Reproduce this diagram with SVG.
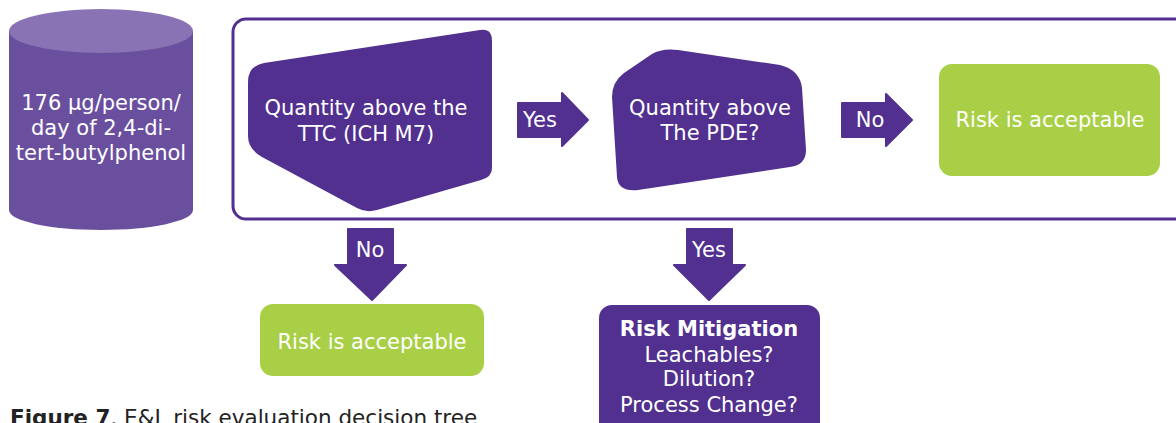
<svg xmlns="http://www.w3.org/2000/svg" width="1176" height="423" viewBox="0 0 1176 423">
<style>
text{font-family:"DejaVu Sans","Verdana",sans-serif;font-size:21px;fill:#ffffff;text-anchor:middle}
.p{fill:#51308f}
.g{fill:#a8cf45}
.arr{fill:#51308f;stroke:#51308f;stroke-width:2;stroke-linejoin:round}
.cap{fill:#222222;text-anchor:start;font-size:21.5px}
</style>
<rect width="1176" height="423" fill="#ffffff"/>
<g id="source">
<path d="M9 31 L9 210 A92 20 0 0 0 193 210 L193 31 Z" fill="#6a4f9f"/>
<ellipse cx="101" cy="31" rx="92" ry="22" fill="#8a73b4"/>
<text x="101" y="110">176 µg/person/</text>
<text x="101" y="135">day of 2,4-di-</text>
<text x="101" y="160">tert-butylphenol</text>
</g>
<g id="frame">
<rect x="233" y="19" width="960" height="200" rx="13" fill="none" stroke="#51308f" stroke-width="3"/>
</g>
<g id="ttc">
<path class="p" d="M264 63 L480 30 Q492 28 492 41 L492 168 Q492 177 481 180 L377 210 Q366 213 357 208 L262 157 Q248 149 248 136 L248 82 Q248 66 264 63 Z"/>
<text x="366" y="115">Quantity above the</text>
<text x="366" y="141">TTC (ICH M7)</text>
</g>
<g id="pde">
<path class="p" d="M612 97 Q612 82 624 73 L652 54 Q662 48 678 50 L780 65 Q800 70 802 88 L806 150 Q806 165 790 167 L638 190 Q618 192 617 177 Z"/>
<text x="710" y="115">Quantity above</text>
<text x="710" y="140">The PDE?</text>
</g>
<g id="accept1">
<rect class="g" x="939" y="64" width="221" height="112" rx="13"/>
<text x="1050" y="127">Risk is acceptable</text>
</g>
<g id="accept2">
<rect class="g" x="260" y="304" width="224" height="72" rx="13"/>
<text x="372" y="349">Risk is acceptable</text>
</g>
<g id="mitigation">
<rect class="p" x="599" y="305" width="221" height="130" rx="13"/>
<text x="709" y="336" font-weight="bold">Risk Mitigation</text>
<text x="709" y="362">Leachables?</text>
<text x="709" y="386">Dilution?</text>
<text x="709" y="412">Process Change?</text>
</g>
<g id="connectors">
<polygon class="arr" points="518,103 562,103 562,93 588,120 562,146 562,137 518,137"/>
<text x="540" y="127">Yes</text>
<polygon class="arr" points="842,103 886,103 886,94 912,120 886,146 886,137 842,137"/>
<text x="870" y="127">No</text>
<polygon class="arr" points="348,229 393,229 393,265 406,265 372,300 335,265 348,265"/>
<text x="370" y="257">No</text>
<polygon class="arr" points="687,229 732,229 732,265 745,265 709,300 674,265 687,265"/>
<text x="709" y="257">Yes</text>
</g>
<text class="cap" x="10" y="425"><tspan font-weight="bold">Figure 7</tspan>. E&amp;L risk evaluation decision tree</text>
</svg>
